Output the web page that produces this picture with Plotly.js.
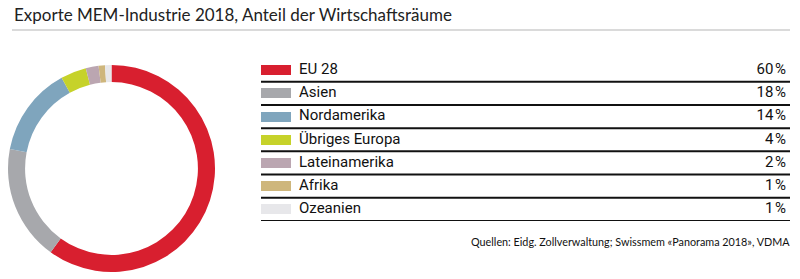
<!DOCTYPE html>
<html><head><meta charset="utf-8">
<script src="https://cdn.plot.ly/plotly-3.0.1.min.js"></script>
<style>html,body{margin:0;padding:0;background:#fff}#chart{width:800px;height:279px}</style>
</head><body><div id="chart"></div>
<script>
var categories = ["EU 28", "Asien", "Nordamerika", "Übriges Europa", "Lateinamerika", "Afrika", "Ozeanien"];
var shares = [60, 18, 14, 4, 2, 1, 1];
var colors = ["#d81f2f", "#a7a8ac", "#7fa5bd", "#c6d22a", "#bba6b1", "#ceb67c", "#e7e7ea"];
var titleText = "Exporte MEM-Industrie 2018, Anteil der Wirtschaftsräume";
var sourceText = "Quellen: Eidg. Zollverwaltung; Swissmem «Panorama 2018», VDMA";

var W = 800, H = 279;
var idx = categories.map(function(_, i){ return i; });

var pie = {
  type: "pie", values: shares, labels: categories, sort: false,
  direction: "clockwise", rotation: 0, hole: 0.835,
  marker: {colors: colors, line: {width: 0}},
  textinfo: "none", hoverinfo: "label+percent", showlegend: false,
  domain: {x: [8/W, 215/W], y: [1 - 272/H, 1 - 65/H]}
};

var swatchW = 30;
var swatches = {
  type: "bar", orientation: "h", y: idx, x: idx.map(function(){ return swatchW; }),
  base: 0, width: 0.43, marker: {color: colors, line: {width: 0}},
  hoverinfo: "skip", showlegend: false, xaxis: "x", yaxis: "y"
};
var labels = {
  type: "scatter", mode: "text", y: idx, x: idx.map(function(){ return 38; }),
  text: categories, textposition: "middle right",
  textfont: {family: "Roboto, sans-serif", size: 15, color: "#111"},
  hoverinfo: "skip", showlegend: false
};
var pcts = {
  type: "scatter", mode: "text", y: idx, x: idx.map(function(){ return 525; }),
  text: shares.map(function(v){ return v + "\u200a%"; }), textposition: "middle left",
  textfont: {family: "Roboto, sans-serif", size: 15, color: "#111"},
  hoverinfo: "skip", showlegend: false
};

var shapes = idx.map(function(i){
  return {type: "line", xref: "x", yref: "y", x0: 0, x1: 529, y0: i + 0.5, y1: i + 0.5,
          line: {color: "#111", width: 2}};
});
shapes.push({type: "line", xref: "paper", yref: "paper", x0: 12/W, x1: 790/W,
             y0: 1 - 30/H, y1: 1 - 30/H, line: {color: "#b5b5b5", width: 1}});

var layout = {
  width: W, height: H, margin: {l: 0, r: 0, t: 0, b: 0},
  paper_bgcolor: "#fff", plot_bgcolor: "rgba(0,0,0,0)",
  title: {text: titleText, x: 14/W, xanchor: "left", xref: "paper",
          y: 1 - 15/H, yanchor: "middle", yref: "paper", automargin: false,
          font: {family: "Lato, sans-serif", size: 17, color: "#222"}},
  xaxis: {domain: [261/W, 790/W], range: [0, 529], visible: false, fixedrange: true},
  yaxis: {domain: [1 - 221/H, 1 - 58.5/H], range: [6.5, -0.5], visible: false, fixedrange: true},
  shapes: shapes,
  annotations: [{text: sourceText, xref: "paper", yref: "paper", x: 792/W, y: 1 - 241/H,
                 xanchor: "right", yanchor: "middle", showarrow: false,
                 font: {family: "Lato, sans-serif", size: 10.8, color: "#111"}}],
  bargap: 0
};

Plotly.newPlot("chart", [pie, swatches, labels, pcts], layout, {displayModeBar: false, staticPlot: true});
</script></body></html>
